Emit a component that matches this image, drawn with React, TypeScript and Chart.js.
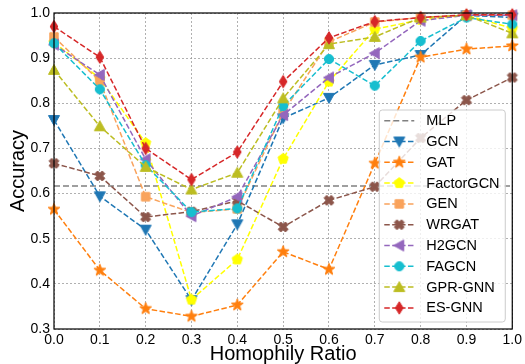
import React, { useEffect, useRef } from "react";
import { Chart, registerables } from "chart.js";

Chart.register(...registerables);

const homophily = [0.0, 0.1, 0.2, 0.3, 0.4, 0.5, 0.6, 0.7, 0.8, 0.9, 1.0];
const yTicks = [0.3, 0.4, 0.5, 0.6, 0.7, 0.8, 0.9, 1.0];

const mlpAcc = [0.617, 0.617, 0.617, 0.617, 0.617, 0.617, 0.617, 0.617, 0.617, 0.617, 0.617];
const gcnAcc = [0.763, 0.594, 0.52, 0.364, 0.532, 0.767, 0.812, 0.885, 0.907, 0.995, 0.99];
const gatAcc = [0.565, 0.43, 0.345, 0.328, 0.353, 0.471, 0.432, 0.667, 0.902, 0.92, 0.927];
const factorGcnAcc = [0.935, 0.855, 0.712, 0.365, 0.454, 0.677, 0.848, 0.964, 0.985, 0.995, 0.966];
const genAcc = [0.947, 0.849, 0.593, 0.558, 0.566, 0.78, 0.936, 0.98, 0.99, 0.995, 0.995];
const wrgatAcc = [0.667, 0.639, 0.548, 0.56, 0.584, 0.526, 0.585, 0.615, 0.723, 0.807, 0.857];
const h2gcnAcc = [0.93, 0.863, 0.676, 0.55, 0.593, 0.774, 0.857, 0.911, 0.983, 0.995, 0.995];
const fagcnAcc = [0.933, 0.831, 0.663, 0.559, 0.567, 0.794, 0.898, 0.839, 0.938, 0.99, 0.975];
const gprGnnAcc = [0.874, 0.749, 0.659, 0.609, 0.646, 0.811, 0.931, 0.947, 0.99, 0.995, 0.955];
const esGnnAcc = [0.97, 0.902, 0.7, 0.631, 0.692, 0.848, 0.945, 0.981, 0.99, 0.996, 0.996];

const seriesNames = ["MLP", "GCN", "GAT", "FactorGCN", "GEN", "WRGAT", "H2GCN", "FAGCN", "GPR-GNN", "ES-GNN"];
const seriesValues = [mlpAcc, gcnAcc, gatAcc, factorGcnAcc, genAcc, wrgatAcc, h2gcnAcc, fagcnAcc, gprGnnAcc, esGnnAcc];
const seriesColors = ["#808080", "#1f77b4", "#ff7f0e", "#ffff00", "#f9a35c", "#8c564b", "#9467bd", "#17becf", "#bcbd22", "#d62728"];
const seriesMarkers = ["none", "tri-down", "star", "pentagon", "square", "x", "tri-left", "circle", "tri-up", "thin-diamond"];

const FONT = "'Liberation Sans', Arial, Helvetica, sans-serif";

function makeMarker(shape: string, color: string): HTMLCanvasElement {
  const S = 18;
  const c = document.createElement("canvas");
  c.width = S;
  c.height = S;
  const ctx = c.getContext("2d")!;
  ctx.translate(S / 2, S / 2);
  ctx.fillStyle = color;
  ctx.strokeStyle = color;
  ctx.lineWidth = 1;
  ctx.beginPath();
  const poly = (pts: number[][]) => {
    pts.forEach((p, i) => (i === 0 ? ctx.moveTo(p[0], p[1]) : ctx.lineTo(p[0], p[1])));
    ctx.closePath();
  };
  if (shape === "tri-down") {
    const r = 5.5;
    poly([[-r, -r * 0.8], [r, -r * 0.8], [0, r]]);
  } else if (shape === "tri-up") {
    const r = 5.5;
    poly([[-r, r * 0.8], [r, r * 0.8], [0, -r]]);
  } else if (shape === "tri-left") {
    const r = 5.5;
    poly([[-r, 0], [r * 0.8, -r], [r * 0.8, r]]);
  } else if (shape === "circle") {
    ctx.arc(0, 0, 4.6, 0, Math.PI * 2);
  } else if (shape === "square") {
    poly([[-4.2, -4.2], [4.2, -4.2], [4.2, 4.2], [-4.2, 4.2]]);
  } else if (shape === "star") {
    const pts: number[][] = [];
    for (let i = 0; i < 10; i++) {
      const a = -Math.PI / 2 + (i * Math.PI) / 5;
      const r = i % 2 === 0 ? 6.2 : 2.6;
      pts.push([Math.cos(a) * r, Math.sin(a) * r]);
    }
    poly(pts);
  } else if (shape === "pentagon") {
    const pts: number[][] = [];
    for (let i = 0; i < 5; i++) {
      const a = -Math.PI / 2 + (i * 2 * Math.PI) / 5;
      pts.push([Math.cos(a) * 5.4, Math.sin(a) * 5.4]);
    }
    poly(pts);
  } else if (shape === "x") {
    const r = 5.2;
    const w = 1.9;
    const pts: number[][] = [];
    const base = [[-w, -r], [w, -r], [w, -w], [r, -w], [r, w], [w, w], [w, r], [-w, r], [-w, w], [-r, w], [-r, -w], [-w, -w]];
    const a = Math.PI / 4;
    base.forEach((p) => pts.push([p[0] * Math.cos(a) - p[1] * Math.sin(a), p[0] * Math.sin(a) + p[1] * Math.cos(a)]));
    poly(pts);
  } else if (shape === "thin-diamond") {
    const r = 6.2;
    poly([[0, -r], [r * 0.62, 0], [0, r], [-r * 0.62, 0]]);
  }
  ctx.fill();
  ctx.stroke();
  return c;
}

export default function App() {
  const ref = useRef<HTMLCanvasElement | null>(null);

  useEffect(() => {
    const canvas = ref.current;
    if (!canvas) return;
    const markerCanvases = seriesMarkers.map((m, i) => (m === "none" ? null : makeMarker(m, seriesColors[i])));

    const datasets = seriesNames.map((name, i) => ({
      label: name,
      data: homophily.map((x, j) => ({ x, y: seriesValues[i][j] })),
      borderColor: seriesColors[i],
      backgroundColor: seriesColors[i],
      borderWidth: 1.5,
      borderDash: i === 0 ? [6, 3] : [5.5, 2.4],
      pointStyle: (markerCanvases[i] || "circle") as any,
      pointRadius: i === 0 ? 0 : 5,
      pointHoverRadius: i === 0 ? 0 : 5,
      tension: 0,
      clip: false as any,
      order: 20 - i,
    }));

    const borderPlugin = {
      id: "frameBorder",
      afterDatasetsDraw(chart: any) {
        const { ctx, chartArea: a } = chart;
        ctx.save();
        ctx.strokeStyle = "#000";
        ctx.lineWidth = 1.2;
        ctx.setLineDash([]);
        ctx.strokeRect(a.left, a.top, a.right - a.left, a.bottom - a.top);
        ctx.restore();
      },
    };

    const legendPlugin = {
      id: "insideLegend",
      afterDraw(chart: any) {
        const { ctx, chartArea: a } = chart;
        const w = 126;
        const h = 212;
        const x0 = a.right - 7 - w;
        const y0 = a.bottom - 7 - h;
        ctx.save();
        ctx.beginPath();
        const rr = 3;
        ctx.moveTo(x0 + rr, y0);
        ctx.arcTo(x0 + w, y0, x0 + w, y0 + h, rr);
        ctx.arcTo(x0 + w, y0 + h, x0, y0 + h, rr);
        ctx.arcTo(x0, y0 + h, x0, y0, rr);
        ctx.arcTo(x0, y0, x0 + w, y0, rr);
        ctx.closePath();
        ctx.fillStyle = "rgba(255,255,255,0.8)";
        ctx.fill();
        ctx.strokeStyle = "#cccccc";
        ctx.lineWidth = 1;
        ctx.stroke();
        const ds = chart.data.datasets;
        ds.forEach((d: any, i: number) => {
          const cy = y0 + 10.7 + i * 20.8;
          ctx.beginPath();
          ctx.strokeStyle = d.borderColor;
          ctx.lineWidth = 1.5;
          ctx.setLineDash(d.borderDash);
          ctx.moveTo(x0 + 5, cy);
          ctx.lineTo(x0 + 35, cy);
          ctx.stroke();
          ctx.setLineDash([]);
          const mk = markerCanvases[i];
          if (mk) ctx.drawImage(mk, x0 + 20 - mk.width / 2, cy - mk.height / 2);
          ctx.fillStyle = "#000";
          ctx.font = `14.5px ${FONT}`;
          ctx.textBaseline = "middle";
          ctx.textAlign = "left";
          ctx.fillText(d.label, x0 + 47, cy + 0.5);
        });
        ctx.restore();
      },
    };

    const chart = new Chart(canvas, {
      type: "line",
      data: { datasets } as any,
      options: {
        animation: false,
        responsive: false,
        maintainAspectRatio: false,
        layout: { padding: { left: 0, right: 10, top: 13, bottom: 0 } },
        plugins: { legend: { display: false }, tooltip: { enabled: false } },
        scales: {
          x: {
            type: "linear",
            min: 0,
            max: 1,
            afterFit: (s: any) => {
              s.height = 35;
            },
            ticks: {
              stepSize: 0.1,
              padding: 3,
              color: "#000",
              font: { family: FONT, size: 14 },
              maxRotation: 0,
              callback: (v: any) => Number(v).toFixed(1),
            },
            grid: { color: "rgba(150,150,150,0.75)", lineWidth: 1, drawTicks: false },
            border: { display: false, dash: [2, 2] },
            title: {
              display: true,
              text: "Homophily Ratio",
              color: "#000",
              font: { family: FONT, size: 20 },
              padding: { top: 0, bottom: -2 },
            },
          },
          y: {
            type: "linear",
            min: yTicks[0],
            max: yTicks[yTicks.length - 1],
            afterFit: (s: any) => {
              s.width = 54;
            },
            afterBuildTicks: (s: any) => {
              s.ticks = yTicks.map((v) => ({ value: v }));
            },
            ticks: {
              padding: 4,
              color: "#000",
              font: { family: FONT, size: 14 },
              callback: (v: any) => Number(v).toFixed(1),
            },
            grid: { color: "rgba(150,150,150,0.75)", lineWidth: 1, drawTicks: false },
            border: { display: false, dash: [2, 2] },
            title: {
              display: true,
              text: "Accuracy",
              color: "#000",
              font: { family: FONT, size: 20 },
              padding: { top: 6, bottom: 0 },
            },
          },
        },
      } as any,
      plugins: [borderPlugin, legendPlugin],
    });
    return () => chart.destroy();
  }, []);

  return (
    <div style={{ position: "absolute", left: 0, top: 0, width: 525, height: 364, background: "#fff" }}>
      <canvas ref={ref} width={525} height={364} style={{ display: "block" }} />
    </div>
  );
}
